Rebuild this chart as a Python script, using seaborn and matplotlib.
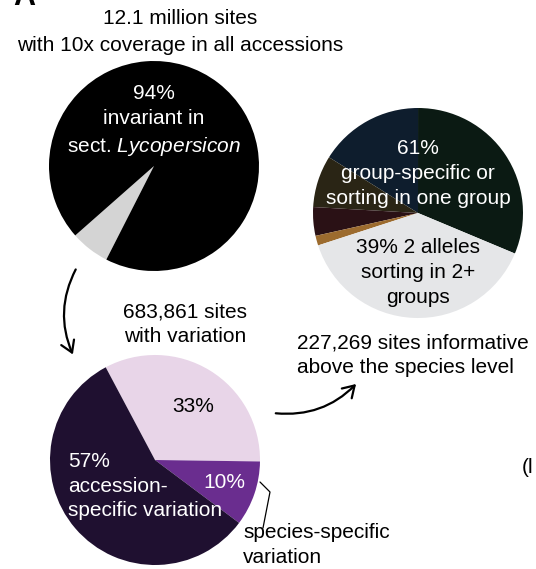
import matplotlib
matplotlib.use("Agg")
import matplotlib.pyplot as plt
import seaborn as sns
from matplotlib.patches import FancyArrowPatch

sns.set_style("white")
plt.rcParams['font.family'] = ['Liberation Sans', 'DejaVu Sans']
plt.rcParams['text.color'] = 'black'
plt.rcParams['mathtext.fontset'] = 'custom'
plt.rcParams['mathtext.rm'] = 'Liberation Sans'
plt.rcParams['mathtext.it'] = 'Liberation Sans:italic'

# pie 1: all sites
all_labels = ["variable", "invariant"]
all_values = [6, 94]
all_colors = ["#d4d4d4", "#000000"]

# pie 2: sites with variation
var_labels = ["shared", "species-specific", "accession-specific"]
var_values = [33, 10, 57]
var_colors = ["#e8d5e8", "#6a2d8f", "#1f1030"]

# pie 3: informative sites
inf_labels = ["group A", "group B", "group C", "group D", "group E", "2+ groups"]
inf_values = [31.3, 16.1, 8.0, 4.4, 1.5, 38.7]
inf_colors = ["#0b1a13", "#0e1d2d", "#2a2515", "#2a1115", "#9c6b2e", "#e5e6e8"]

W, H = 536, 569
fig = plt.figure(figsize=(W / 100, H / 100), dpi=100)


def pie_axes(cx, cy, r):
    return fig.add_axes([(cx - r) / W, (H - cy - r) / H, 2 * r / W, 2 * r / H])


wp = dict(linewidth=0, edgecolor="none")
ax1 = pie_axes(154, 166, 105)
ax1.pie(all_values, colors=all_colors, startangle=221.4, counterclock=True, wedgeprops=wp)
ax2 = pie_axes(155, 460, 105)
ax2.pie(var_values, colors=var_colors, startangle=118, counterclock=False, wedgeprops=wp)
ax3 = pie_axes(418, 213, 105)
ax3.pie(inf_values, colors=inf_colors, startangle=-22.7, counterclock=True, wedgeprops=wp)
for a in (ax1, ax2, ax3):
    a.set_xlim(-1, 1)
    a.set_ylim(-1, 1)
    a.set_axis_off()

# overlay in pixel coordinates for text and arrows
ov = fig.add_axes([0, 0, 1, 1], facecolor="none")
ov.set_xlim(0, W)
ov.set_ylim(H, 0)
ov.set_axis_off()

fs = 15
ls = 1.4
ov.text(13, 5, "A", fontsize=22, fontweight="bold", va="baseline")
ov.text(180, 32, "12.1 million sites\nwith 10x coverage in all accessions",
        fontsize=fs, ha="center", va="center", linespacing=1.5)
ov.text(154, 121, "94%\ninvariant in\nsect. $\\mathit{Lycopersicon}$",
        fontsize=fs, ha="center", va="center", color="white", linespacing=ls)
ov.text(418, 173, "61%\ngroup-specific or\nsorting in one group",
        fontsize=fs, ha="center", va="center", color="white", linespacing=ls)
ov.text(418, 272, "39% 2 alleles\nsorting in 2+\ngroups",
        fontsize=fs, ha="center", va="center", linespacing=ls)
ov.text(185, 324, "683,861 sites\nwith variation",
        fontsize=fs, ha="center", va="center", linespacing=ls)
ov.text(297, 355, "227,269 sites informative\nabove the species level",
        fontsize=fs, ha="left", va="center", linespacing=ls)
ov.text(193, 406, "33%", fontsize=fs, ha="center", va="center")
ov.text(68, 486, "57%\naccession-\nspecific variation",
        fontsize=fs, ha="left", va="center", color="white", linespacing=ls)
ov.text(224, 482, "10%", fontsize=fs, ha="center", va="center", color="white")
ov.text(243, 545, "species-specific\nvariation",
        fontsize=fs, ha="left", va="center", linespacing=ls)
ov.text(522, 467, "(l", fontsize=fs, ha="left", va="center", clip_on=False)

# curved arrows
arrow1 = FancyArrowPatch((77, 267), (74, 357), connectionstyle="arc3,rad=0.25",
                         arrowstyle="->,head_length=8,head_width=5", lw=1.6, color="black")
arrow2 = FancyArrowPatch((273, 413), (358, 382), connectionstyle="arc3,rad=0.25",
                         arrowstyle="->,head_length=8,head_width=5", lw=1.6, color="black")
ov.add_patch(arrow1)
ov.add_patch(arrow2)

# bracket pointing at species-specific slice
ov.plot([260, 270, 263], [482, 492, 528], color="black", lw=0.9)

fig.savefig("out.png", dpi=100)
